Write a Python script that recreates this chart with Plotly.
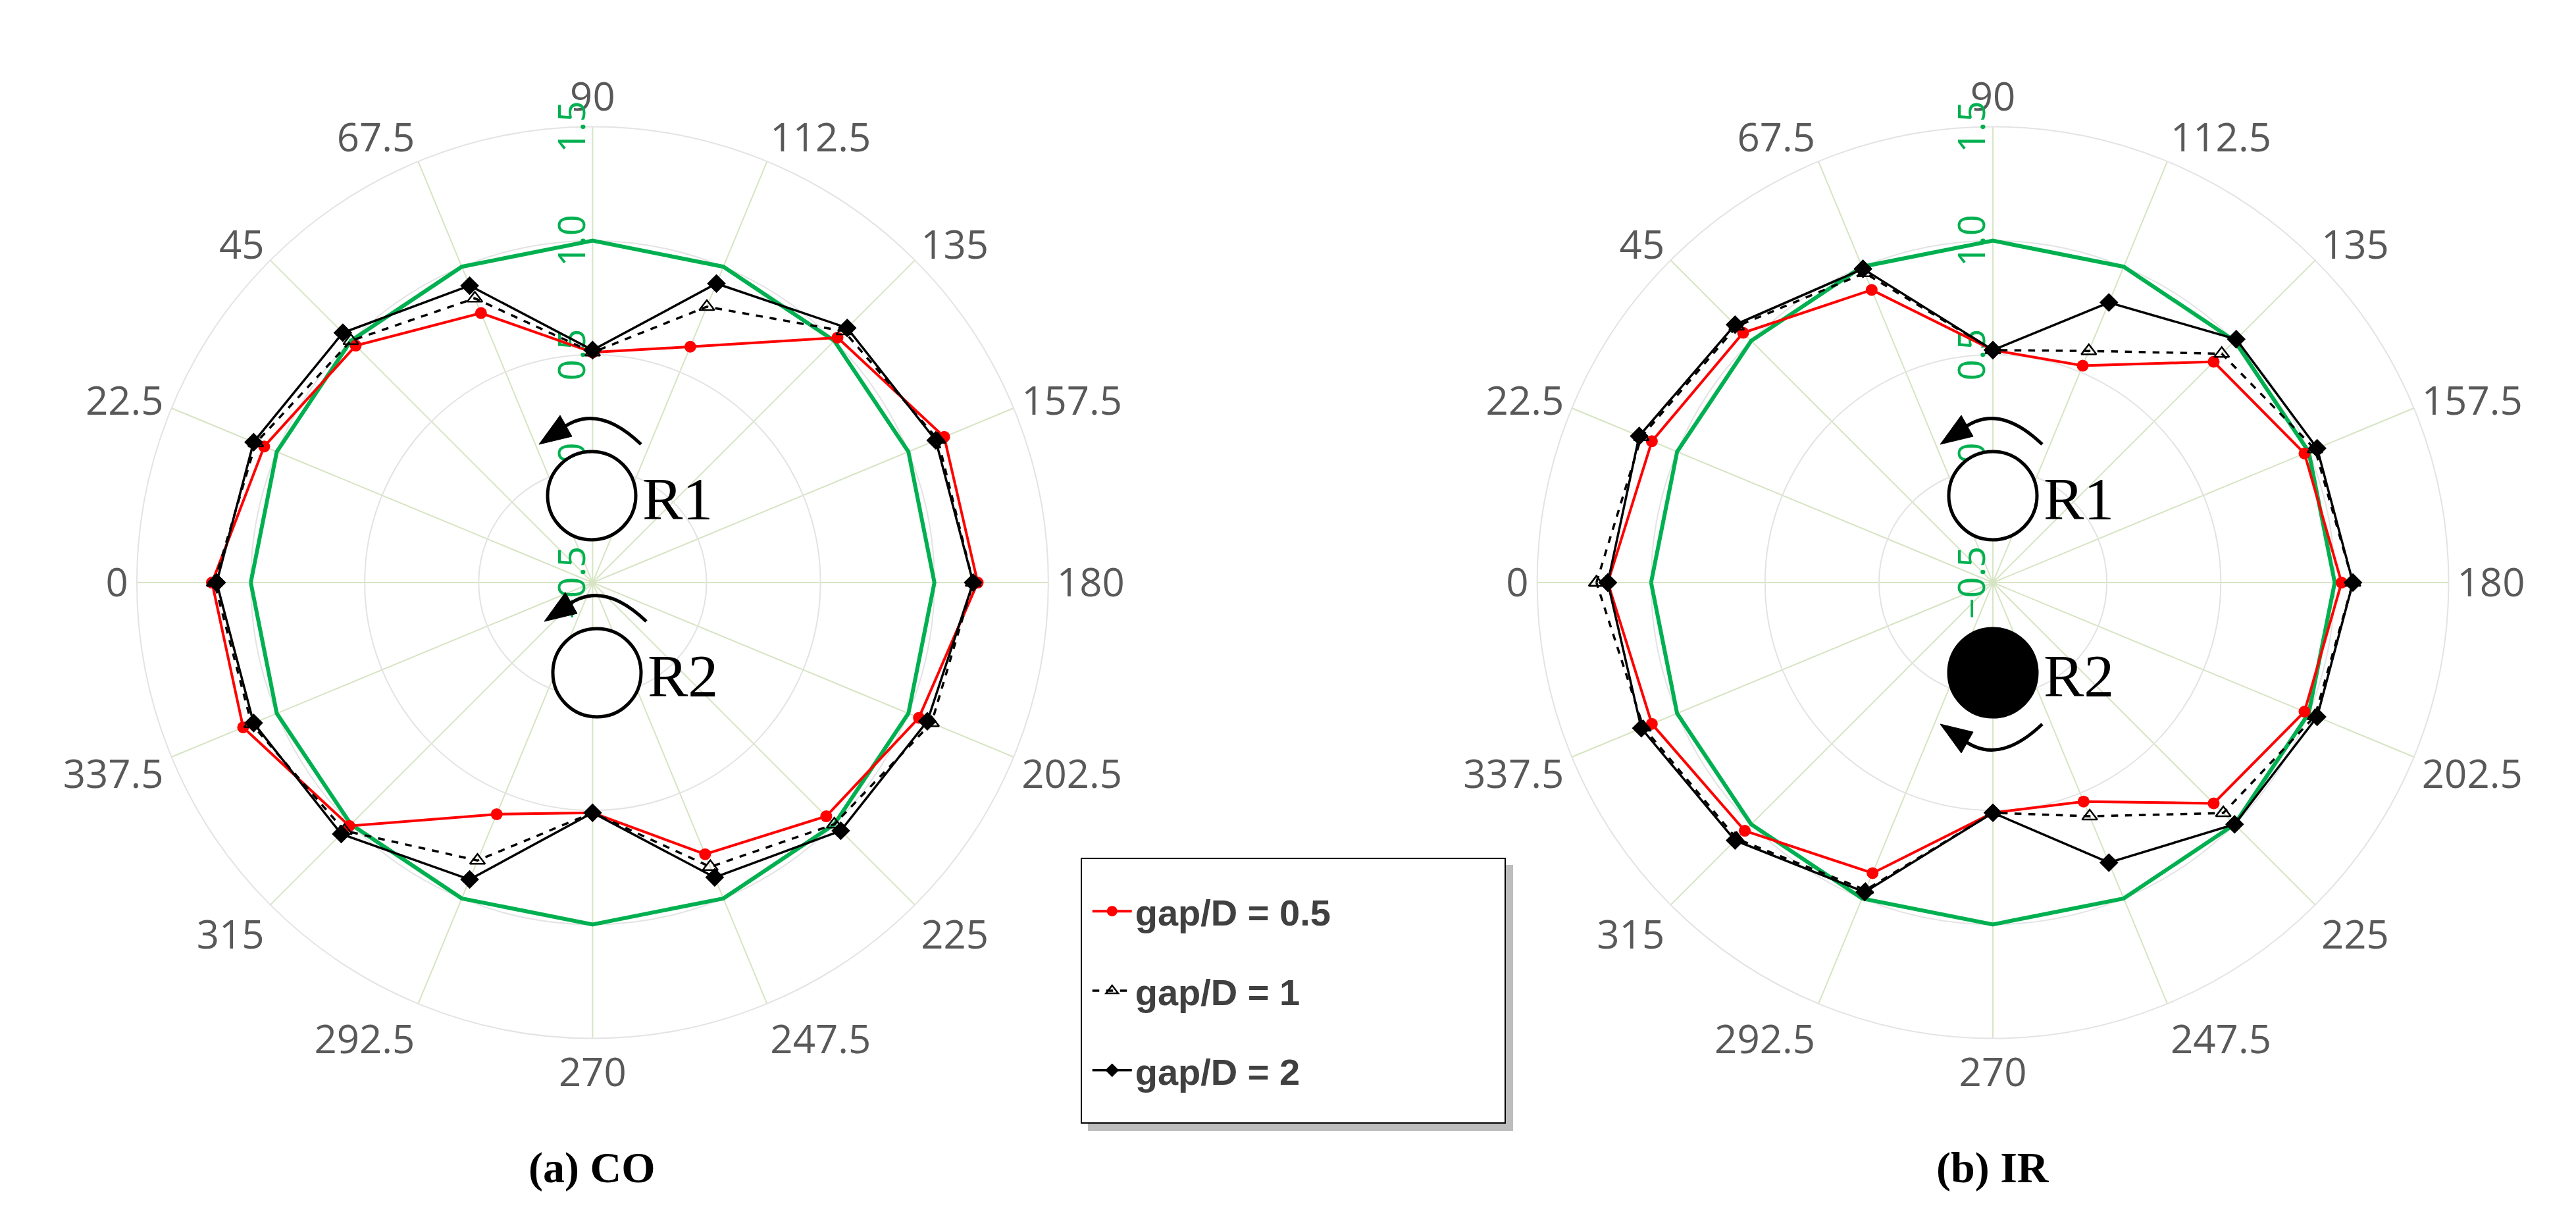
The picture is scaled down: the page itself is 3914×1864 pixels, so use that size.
import plotly.graph_objects as go

# angles (deg) and their labels
theta = [0, 22.5, 45, 67.5, 90, 112.5, 135, 157.5, 180, 202.5, 225, 247.5, 270, 292.5, 315, 337.5]
theta_lbl = ["0", "22.5", "45", "67.5", "90", "112.5", "135", "157.5", "180",
             "202.5", "225", "247.5", "270", "292.5", "315", "337.5"]

ref = [1.0] * 16

co_05 = [1.17, 1.06, 0.97, 0.78, 0.51, 0.62, 1.02, 1.17, 1.19, 1.05, 0.95, 0.79, 0.51, 0.60, 1.01, 1.16]
co_1 = [1.16, 1.10, 1.00, 0.85, 0.51, 0.81, 1.06, 1.14, 1.17, 1.11, 1.00, 0.85, 0.51, 0.82, 1.04, 1.12]
co_2 = [1.15, 1.11, 1.05, 0.91, 0.52, 0.92, 1.08, 1.13, 1.17, 1.09, 1.04, 0.90, 0.51, 0.91, 1.06, 1.11]

ir_05 = [1.19, 1.12, 1.05, 0.89, 0.52, 0.53, 0.87, 0.98, 1.03, 0.98, 0.87, 0.54, 0.51, 0.88, 1.04, 1.12]
ir_1 = [1.24, 1.17, 1.09, 0.97, 0.52, 0.60, 0.92, 1.03, 1.08, 1.03, 0.93, 0.61, 0.51, 0.96, 1.09, 1.16]
ir_2 = [1.19, 1.18, 1.10, 0.99, 0.52, 0.83, 1.01, 1.04, 1.08, 1.04, 1.00, 0.83, 0.51, 0.97, 1.10, 1.17]

names = ["<b>gap/D = 0.5</b>", "<b>gap/D = 1</b>", "<b>gap/D = 2</b>"]

W, H = 3914, 1864


def closed(v):
    return list(v) + [v[0]]


fig = go.Figure()

panels = [("polar", [co_05, co_1, co_2]), ("polar2", [ir_05, ir_1, ir_2])]
for k, (sub, series) in enumerate(panels):
    fig.add_trace(go.Scatterpolar(r=closed(ref), theta=closed(theta), mode="lines",
                                  line=dict(color="#00b050", width=6), subplot=sub,
                                  showlegend=False, hoverinfo="skip"))
    fig.add_trace(go.Scatterpolar(r=closed(series[0]), theta=closed(theta), mode="lines+markers",
                                  name=names[0], legendgroup="a", showlegend=(k == 0),
                                  line=dict(color="#ff0000", width=4),
                                  marker=dict(symbol="circle", size=18, color="#ff0000"),
                                  subplot=sub))
    fig.add_trace(go.Scatterpolar(r=closed(series[1]), theta=closed(theta), mode="lines+markers",
                                  name=names[1], legendgroup="b", showlegend=(k == 0),
                                  line=dict(color="black", width=3.5, dash="dash"),
                                  marker=dict(symbol="triangle-up-open", size=20, color="black",
                                              line=dict(width=2.5)),
                                  subplot=sub))
    fig.add_trace(go.Scatterpolar(r=closed(series[2]), theta=closed(theta), mode="lines+markers",
                                  name=names[2], legendgroup="c", showlegend=(k == 0),
                                  line=dict(color="black", width=3.5),
                                  marker=dict(symbol="diamond", size=22, color="black"),
                                  subplot=sub))


def polar_cfg(xdom):
    return dict(
        domain=dict(x=xdom, y=[0.158, 0.901]),
        gridshape="linear",
        bgcolor="white",
        radialaxis=dict(range=[-0.5, 1.5], dtick=0.5, tickformat=".1f", angle=90,
                        tickangle=0, side="counterclockwise", showline=False, ticks="",
                        tickfont=dict(family="Open Sans", size=56, color="#00b050"),
                        gridcolor="#e3e3e3", gridwidth=2, layer="below traces"),
        angularaxis=dict(rotation=180, direction="clockwise", tickmode="array",
                         tickvals=theta, ticktext=theta_lbl, ticks="",
                         tickfont=dict(family="Open Sans", size=60, color="#595959"),
                         showline=True, linecolor="#e3e3e3", linewidth=2,
                         gridcolor="#d6e4c3", gridwidth=2, layer="below traces"),
    )


def P(x, y):
    return x / W, 1 - y / H


shapes = []
annotations = []


def circle_mark(cx, cy, label, filled, arrow_below):
    r = 67
    x0, y0 = P(cx - r, cy - r)
    x1, y1 = P(cx + r, cy + r)
    shapes.append(dict(type="circle", xref="paper", yref="paper", x0=x0, x1=x1, y0=y1, y1=y0,
                       line=dict(color="black", width=5),
                       fillcolor="black" if filled else "white", layer="above"))
    annotations.append(dict(x=P(cx + 75, 0)[0], y=P(0, cy + 5)[1], xref="paper", yref="paper",
                            text=label, showarrow=False, xanchor="left", yanchor="middle",
                            font=dict(family="Liberation Serif", size=92, color="black")))
    s = 1 if arrow_below else -1
    pts = [(cx + 75, cy + s * 78), (cx + 5, cy + s * 145), (cx - 50, cy + s * 98)]
    (ax, ay), (bx, by), (ex, ey) = [P(*p) for p in pts]
    shapes.append(dict(type="path", xref="paper", yref="paper",
                       path=f"M {ax} {ay} Q {bx} {by} {ex} {ey}",
                       line=dict(color="black", width=5), layer="above"))
    head = [(cx - 80, cy + s * 78), (cx - 48, cy + s * 122), (cx - 30, cy + s * 90)]
    (hx1, hy1), (hx2, hy2), (hx3, hy3) = [P(*p) for p in head]
    shapes.append(dict(type="path", xref="paper", yref="paper",
                       path=f"M {hx1} {hy1} L {hx2} {hy2} L {hx3} {hy3} Z",
                       fillcolor="black", line=dict(color="black", width=1), layer="above"))


circle_mark(891, 745, "R1", False, False)
circle_mark(899, 1014, "R2", False, False)
circle_mark(3020, 745, "R1", False, False)
circle_mark(3020, 1014, "R2", True, True)

# legend shadow + frame
sx0, sy0 = P(1645, 1306)
sx1, sy1 = P(2291, 1710)
shapes.append(dict(type="rect", xref="paper", yref="paper", x0=sx0, x1=sx1, y0=sy1, y1=sy0,
                   fillcolor="#bdbdbd", line=dict(width=0), layer="below"))
lx0, ly0 = P(1635, 1296)
lx1, ly1 = P(2279, 1698)
shapes.append(dict(type="rect", xref="paper", yref="paper", x0=lx0, x1=lx1, y0=ly1, y1=ly0,
                   fillcolor="white", line=dict(color="black", width=2), layer="below"))

for txt, cx in [("<b>(a)</b> <b>CO</b>", 891), ("<b>(b)</b> <b>IR</b>", 3020)]:
    annotations.append(dict(x=cx / W, y=P(0, 1766)[1], xref="paper", yref="paper", text=txt,
                            showarrow=False, xanchor="center", yanchor="middle",
                            font=dict(family="Liberation Serif", size=66, color="black")))

fig.update_layout(
    width=W, height=H,
    margin=dict(l=0, r=0, t=0, b=0),
    paper_bgcolor="white",
    polar=polar_cfg([0.051, 0.405]),
    polar2=polar_cfg([0.5945, 0.9487]),
    showlegend=True,
    legend=dict(x=lx0 + 0.003, y=ly0 - 0.02, xanchor="left", yanchor="top",
                bgcolor="rgba(0,0,0,0)", borderwidth=0, tracegroupgap=45,
                font=dict(family="Liberation Sans", size=56, color="#404040"),
                itemwidth=60),
    shapes=shapes,
    annotations=annotations,
)

fig.write_html("out.html")
